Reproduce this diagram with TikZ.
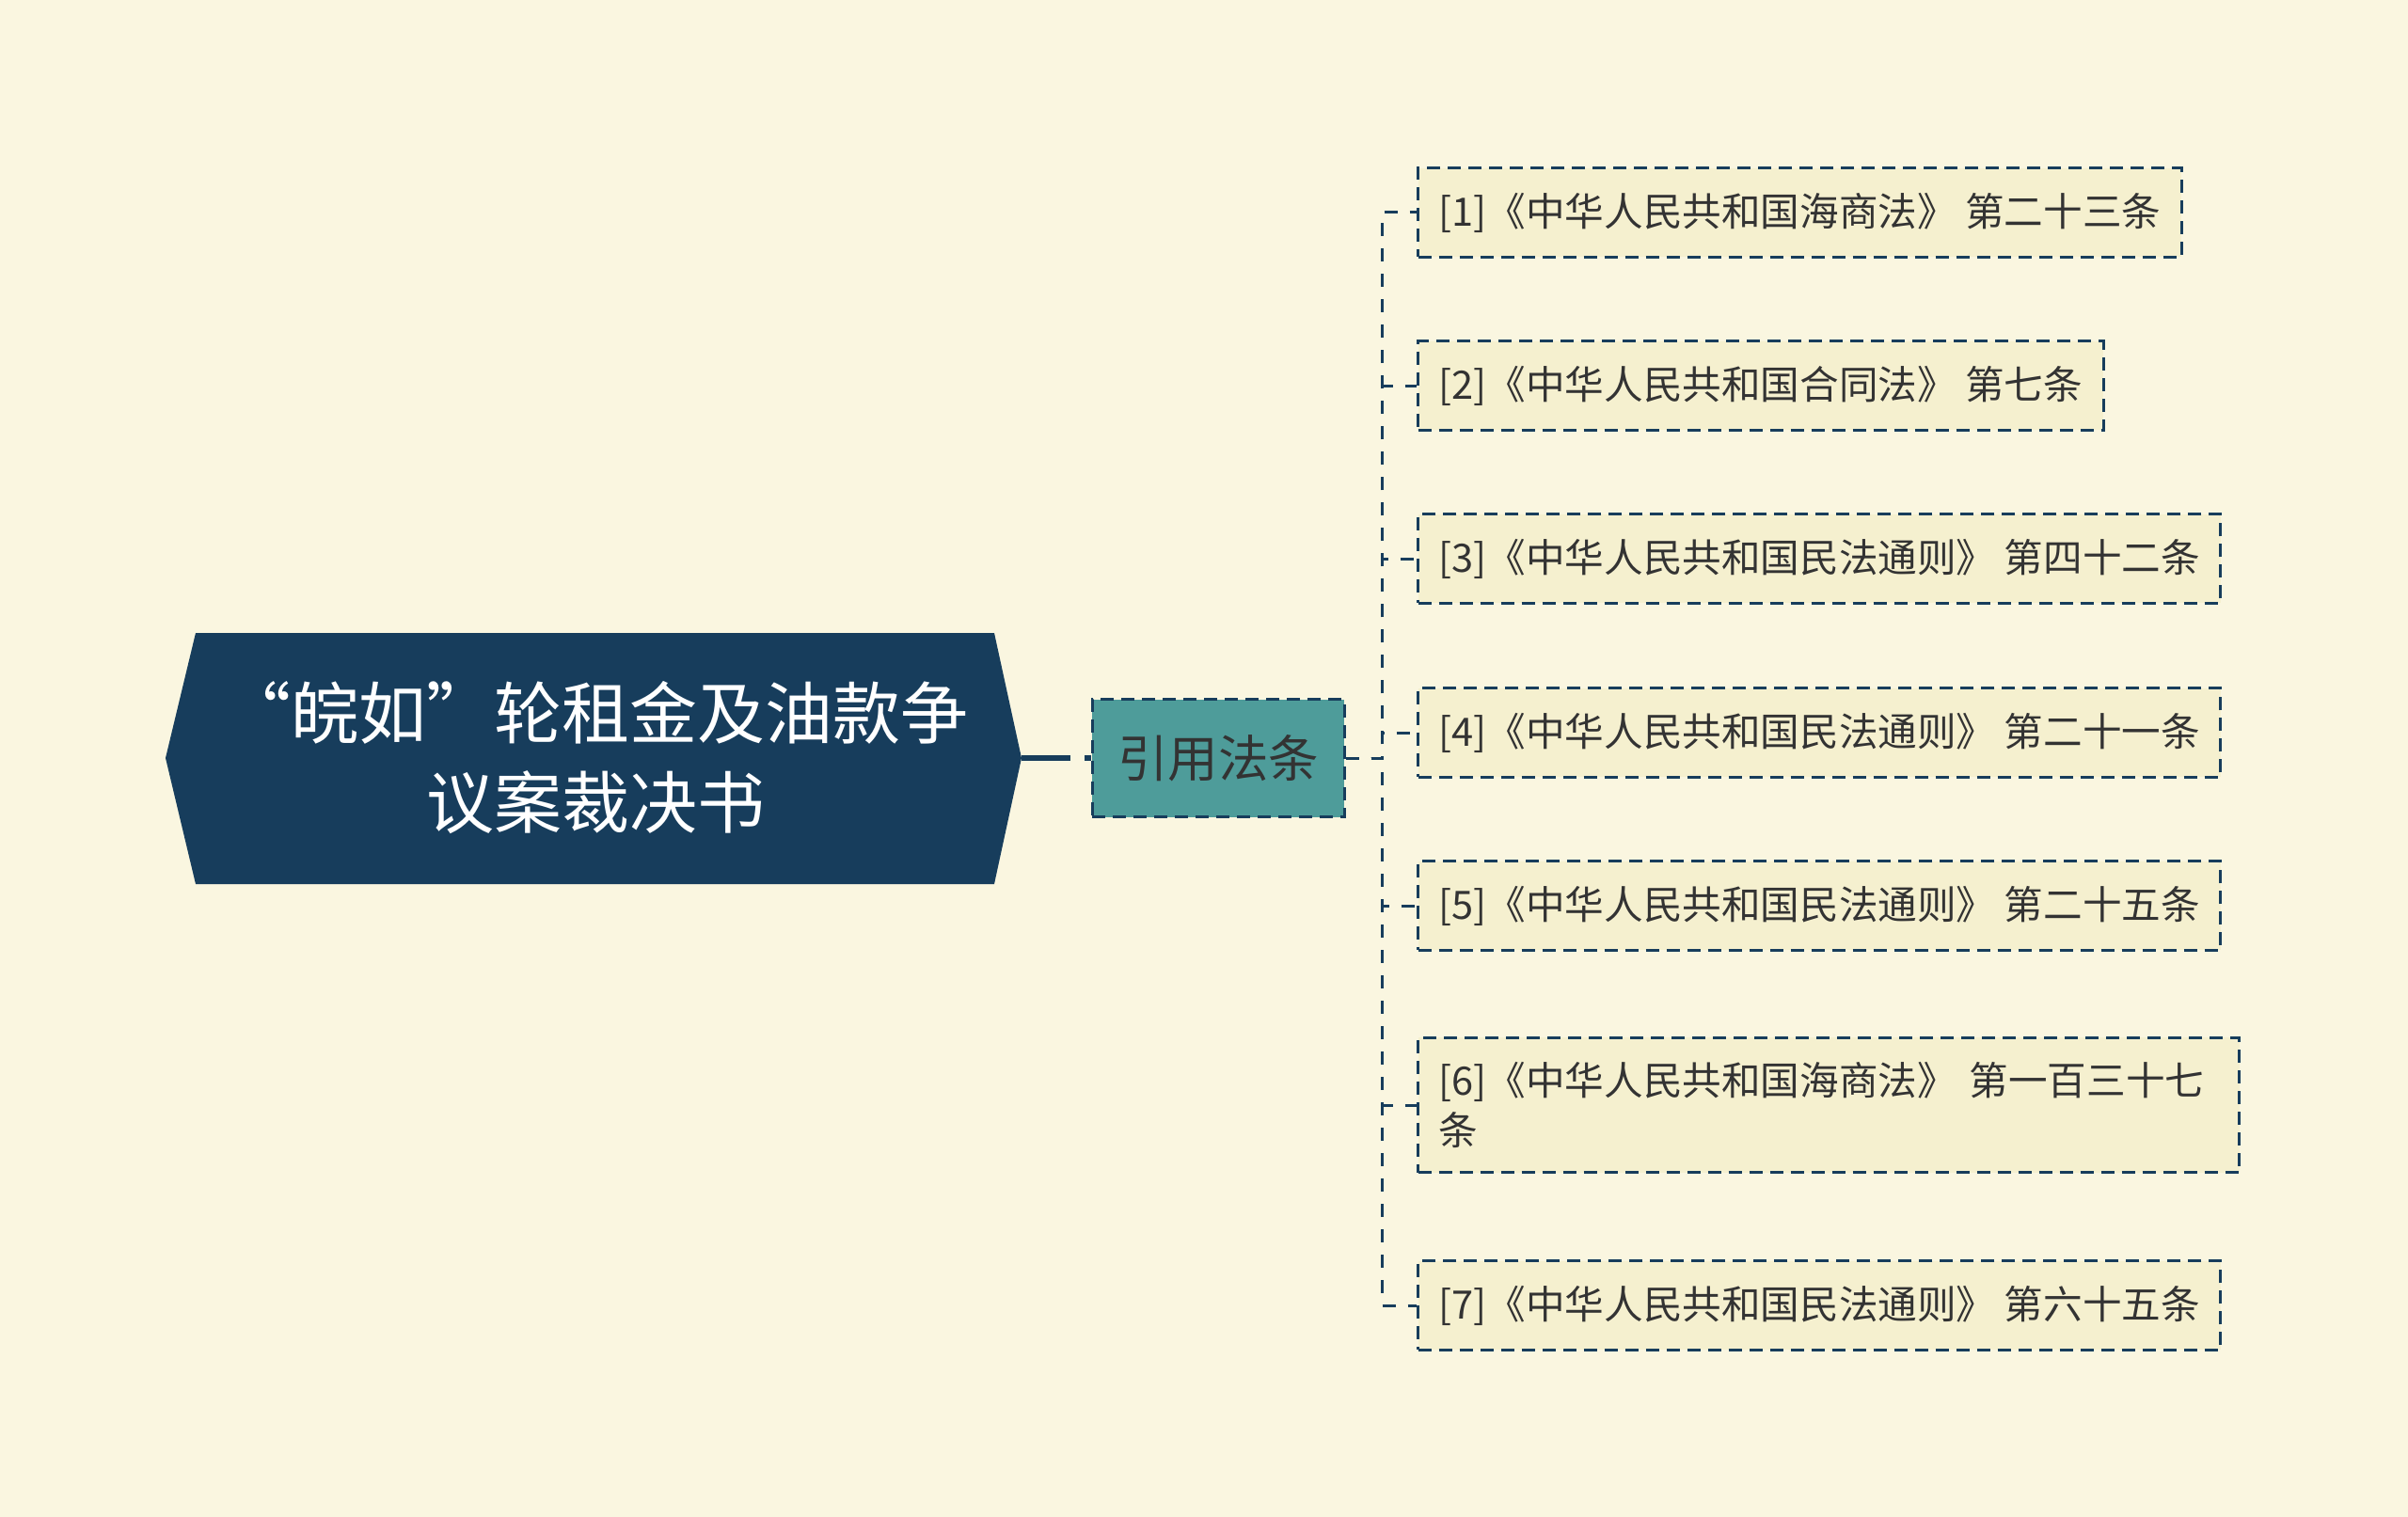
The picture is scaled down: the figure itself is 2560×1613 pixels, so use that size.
\documentclass[tikz,border=0pt]{standalone}
\usepackage{fontspec}
\setmainfont{Noto Sans CJK SC}
\definecolor{paper}{RGB}{250,246,224}
\definecolor{navy}{RGB}{23,61,92}
\definecolor{citeteal}{RGB}{78,156,154}
\definecolor{lawcream}{RGB}{245,240,207}
\definecolor{ink}{RGB}{51,51,51}
\begin{document}
\begin{tikzpicture}[x=1pt,y=-1pt,
    citebox/.style={draw=navy,line width=3pt,dash pattern=on 14pt off 8pt,fill=citeteal,text=ink,
      minimum width=268pt,minimum height=125pt,inner sep=0pt,font=\fontsize{53.5}{60}\selectfont},
    lawbox/.style={draw=navy,line width=3pt,dash pattern=on 14pt off 8pt,fill=lawcream,text=ink,
      anchor=west,align=left,inner xsep=22pt,inner ysep=26pt,font=\fontsize{41.6}{53}\selectfont},
    tie/.style={draw=navy,line width=3pt,dash pattern=on 14pt off 13pt}]
  \useasboundingbox (0,0) rectangle (2560,1613);
  \fill [paper] (0,0) rectangle (2560,1613);
  % title plate
  \fill [navy] (176,806)--(208,673)--(1057,673)--(1086,806)--(1057,940)--(208,940)--cycle;
  \node [text=white,align=center,font=\fontsize{72}{95}\selectfont] (root) at (633,806)
    {“皖如”轮租金及油款争\\议案裁决书};
  \coordinate (rootR) at (1086,806);
  \node [citebox] (cite) at (1295,806) {引用法条};
  \draw [navy,line width=6pt,dash pattern=on 52pt off 15pt] (rootR) -- (cite.west);
  % cited articles
  \node [lawbox] (law1) at (1506,226) {[1]《中华人民共和国海商法》 第二十三条};
  \node [lawbox] (law2) at (1506,410) {[2]《中华人民共和国合同法》 第七条};
  \node [lawbox] (law3) at (1506,594) {[3]《中华人民共和国民法通则》 第四十二条};
  \node [lawbox] (law4) at (1506,779) {[4]《中华人民共和国民法通则》 第二十一条};
  \node [lawbox] (law5) at (1506,963) {[5]《中华人民共和国民法通则》 第二十五条};
  \node [lawbox,text width=829pt] (law6) at (1506,1175) {[6]《中华人民共和国海商法》 第一百三十七\\条};
  \node [lawbox] (law7) at (1506,1388) {[7]《中华人民共和国民法通则》 第六十五条};
  \draw [tie] (cite.east) -- ++(39,0) |- (law1.west);
  \draw [tie] (cite.east) -- ++(39,0) |- (law2.west);
  \draw [tie] (cite.east) -- ++(39,0) |- (law3.west);
  \draw [tie] (cite.east) -- ++(39,0) |- (law4.west);
  \draw [tie] (cite.east) -- ++(39,0) |- (law5.west);
  \draw [tie] (cite.east) -- ++(39,0) |- (law6.west);
  \draw [tie] (cite.east) -- ++(39,0) |- (law7.west);
\end{tikzpicture}
\end{document}
